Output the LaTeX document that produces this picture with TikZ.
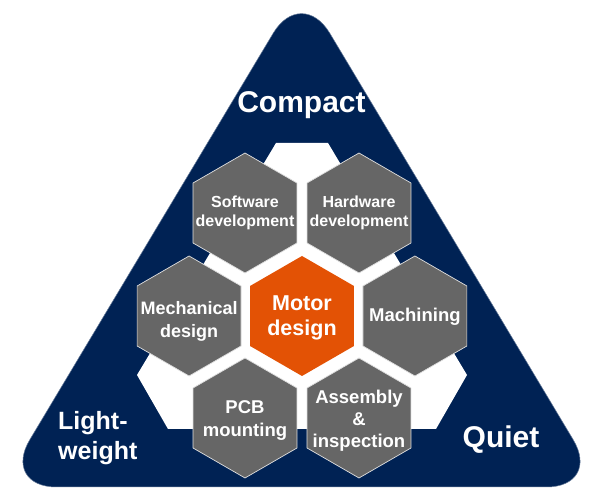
\documentclass[tikz,border=0pt]{standalone}
\usepackage{fontspec}
\setmainfont{Liberation Sans}
\usepackage{xcolor}
\usetikzlibrary{positioning, shapes.geometric, calc}

\definecolor{navyblue}{RGB}{0,34,84}
\definecolor{hexgray}{RGB}{102,102,102}
\definecolor{motororange}{RGB}{227,82,5}

\begin{document}
\begin{tikzpicture}[
		x=1pt, y=1pt,
		hexcell/.style={regular polygon, regular polygon sides=6, shape border rotate=30, minimum size=120pt, inner sep=0pt, outer sep=0pt, fill=hexgray, draw=white!80!hexgray, line width=0.7pt},
		hextext/.style={text=white, align=center, inner sep=0pt, font=\bfseries\fontsize{18.5}{22}\selectfont},
		goaltext/.style={text=white, align=center, inner sep=0pt, font=\bfseries\fontsize{30}{30}\selectfont}
		]
		\useasboundingbox (0,0) rectangle (600,502);

		% triangle and white backing
		\draw[fill=navyblue, draw=navyblue!60!white, line width=0.5pt, rounded corners=55pt] (1.5,15) -- (301.5,516) -- (601.5,15) -- cycle;
		\fill[white] (276,359) -- (328,359) -- (467,127) -- (436,73) -- (168,73) -- (137,127) -- cycle;

		% honeycomb
		\node[hexcell, fill=motororange, draw=none] (motor) at (302,186) {};
		\node[hexcell, left=9pt of motor] (mech) {};
		\node[hexcell, right=9pt of motor] (mach) {};
		\node[hexcell] (soft) at ($(motor)+(-57,103)$) {};
		\node[hexcell] (hard) at ($(motor)+(57,103)$) {};
		\node[hexcell] (pcb) at ($(motor)+(-57,-102)$) {};
		\node[hexcell] (asm) at ($(motor)+(57,-102)$) {};

		\node[hextext, font=\bfseries\fontsize{21.5}{25}\selectfont] (motor-t) at ($(motor)+(0,-2)$) {Motor\\design};
		\node[hextext, font=\bfseries\fontsize{18}{23}\selectfont] (mech-t) at ($(mech)+(0,-5)$) {Mechanical\\design};
		\node[hextext] (mach-t) at ($(mach)+(0,-1)$) {Machining};
		\node[hextext, font=\bfseries\fontsize{16}{19}\selectfont] (soft-t) at (soft) {Software\\development};
		\node[hextext, font=\bfseries\fontsize{16}{19}\selectfont] (hard-t) at (hard) {Hardware\\development};
		\node[hextext, font=\bfseries\fontsize{18.5}{23}\selectfont] (pcb-t) at ($(pcb)+(0,-3)$) {PCB\\mounting};
		\node[hextext] (asm-t) at ($(asm)+(0,-3)$) {Assembly\\\&\\inspection};

		% goals
		\node[goaltext, anchor=base] (compact) at (301.5,389) {Compact};
		\node[goaltext, anchor=base] (quiet) at (501,54) {Quiet};
		\node[goaltext, align=left, anchor=west, font=\bfseries\fontsize{25}{30}\selectfont] (light) at (58,63.5) {Light-\\weight};
	\end{tikzpicture}
\end{document}
